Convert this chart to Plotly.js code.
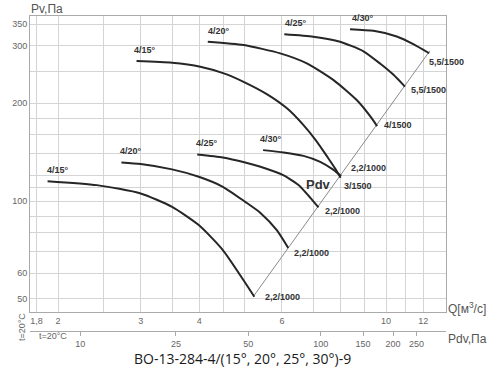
<!DOCTYPE html>
<html><head><meta charset="utf-8">
<script src="https://cdn.plot.ly/plotly-3.0.1.min.js"></script>
<style>body{margin:0;background:#fff}#chart{width:500px;height:370px}</style>
</head><body><div id="chart"></div>
<script>
// ---- data (Q in m3/s, Pv in Pa) ----
const low15Q = [1.90, 2.42, 3.00, 3.50, 3.99, 4.49, 4.97, 5.24];
const low15P = [115.2, 112.0, 105.6, 96.0, 84.4, 70.7, 57.1, 50.8];
const low20Q = [2.73, 3.00, 3.50, 3.99, 4.49, 5.01, 5.40, 5.85, 6.19];
const low20P = [131.5, 130.0, 125.2, 118.8, 110.7, 99.5, 92.0, 81.4, 71.7];
const low25Q = [3.96, 4.49, 5.01, 5.40, 6.05, 6.56, 6.89, 7.18];
const low25P = [139.2, 136.3, 131.5, 127.5, 120.0, 111.0, 102.5, 95.6];
const low30Q = [5.47, 6.05, 6.67, 7.24, 7.73, 8.02];
const low30P = [143.5, 141.2, 137.8, 132.1, 124.8, 119.4];
const up15Q = [2.94, 3.50, 4.02, 4.51, 4.97, 5.57, 6.15, 6.67, 7.12, 7.48, 7.79, 8.00];
const up15P = [269.6, 266.4, 259.0, 247.1, 232.8, 213.4, 192.9, 171.3, 152.5, 137.5, 126.0, 118.1];
const up20Q = [4.17, 4.97, 5.95, 6.78, 7.73, 8.66, 9.25, 9.57];
const up20P = [309.2, 302.0, 284.8, 265.3, 235.6, 204.6, 182.5, 170.1];
const up25Q = [6.07, 7.00, 7.98, 8.95, 9.71, 10.36, 10.97];
const up25P = [325.8, 320.3, 309.2, 289.0, 265.0, 245.0, 225.0];
const up30Q = [8.38, 9.40, 10.54, 11.43, 12.36];
const up30P = [338.0, 334.0, 321.0, 304.0, 285.0];
const pdvQ = [5.22, 12.40];
const pdvP = [51.0, 290.0];

const startLabels = ["4/15°","4/20°","4/25°","4/30°","4/15°","4/20°","4/25°","4/30°"];
const endLabels = ["2,2/1000","2,2/1000","2,2/1000","2,2/1000","3/1500","4/1500","5,5/1500","5,5/1500"];

const qTickVals = [1.8, 2, 2.5, 3, 3.5, 4, 4.5, 5, 6, 7, 8, 9, 10, 11, 12];
const qTickText = ["1,8", "2", "", "3", "", "4", "", "", "6", "", "", "", "10", "", "12"];
const pTickVals = [50, 60, 70, 80, 90, 100, 110, 120, 140, 160, 180, 200, 250, 300, 350];
const pTickText = ["50", "60", "", "", "", "100", "", "", "", "", "", "200", "", "300", "350"];
const pdvTickVals = [10, 25, 50, 100, 150, 200, 250];
const pdvTickText = ["10", "25", "50", "100", "150", "200", "250"];

// ---- build ----
const curvesQ = [low15Q, low20Q, low25Q, low30Q, up15Q, up20Q, up25Q, up30Q];
const curvesP = [low15P, low20P, low25P, low30P, up15P, up20P, up25P, up30P];
const traces = [];
traces.push({x: pdvQ, y: pdvP, mode: 'lines', line: {color: '#8a8a8a', width: 1}, hoverinfo: 'skip'});
curvesQ.forEach((q, i) => {
  traces.push({x: q, y: curvesP[i], mode: 'lines', line: {color: '#262626', width: 2, shape: 'spline', smoothing: 0.6}, hoverinfo: 'skip'});
});
traces.push({x: pdvTickVals, y: pdvTickVals.map(() => 100), xaxis: 'x2', mode: 'markers', marker: {opacity: 0}, hoverinfo: 'skip'});

const lab = {family: 'Liberation Sans, Arial, sans-serif', size: 9, color: '#333'};
const annotations = [];
// start labels
const startShift = [[-3, 4], [-3, 4], [-3, 4], [-5, 4], [-5, 4], [-2, 4], [-1, 4], [0, 4]];
curvesQ.forEach((q, i) => {
  annotations.push({x: Math.log10(q[0]), y: Math.log10(curvesP[i][0]), xref: 'x', yref: 'y',
    text: '<b>' + startLabels[i] + '</b>', showarrow: false, xanchor: 'left', yanchor: 'bottom',
    xshift: startShift[i][0], yshift: startShift[i][1], font: lab});
});
// end labels
const endShift = [[9, 0], [4, -5], [4, -4], [8, 8], [1, -8], [5, 1], [4, -3], [-2, -9]];
curvesQ.forEach((q, i) => {
  const n = q.length - 1;
  annotations.push({x: Math.log10(q[n]), y: Math.log10(curvesP[i][n]), xref: 'x', yref: 'y',
    text: '<b>' + endLabels[i] + '</b>', showarrow: false, xanchor: 'left', yanchor: 'middle',
    xshift: endShift[i][0], yshift: endShift[i][1], font: lab});
});
annotations.push({x: Math.log10(7.17), y: Math.log10(112.8), xref: 'x', yref: 'y', text: '<b>Pdv</b>',
  showarrow: false, font: {family: 'Liberation Sans, Arial, sans-serif', size: 13, color: '#333'}});

const axFont = {family: 'Liberation Sans, Arial, sans-serif', size: 12, color: '#555'};
function px(x, y, text, opts) {
  return Object.assign({xref: 'paper', yref: 'paper', x: x, y: y, text: text, showarrow: false}, opts);
}
// paper coords: plot area x 30..446 (416 px), y 331..16 (315 px)
const W = 416, H = 315;
const fx = p => (p - 30) / W, fy = p => (331 - p) / H;
annotations.push(px(fx(446), fy(308), 'Q[м<sup>3</sup>/с]', {xanchor: 'left', yanchor: 'middle', font: axFont}));
annotations.push(px(fx(446), fy(339), 'Pdv,Па', {xanchor: 'left', yanchor: 'middle', font: axFont}));
annotations.push(px(fx(29), fy(9), 'Pv,Па', {xanchor: 'left', yanchor: 'middle', font: axFont}));
annotations.push(px(fx(37), fy(336), 't=20°C', {xanchor: 'left', yanchor: 'middle', font: {family: 'Liberation Sans, Arial, sans-serif', size: 9, color: '#666'}}));
annotations.push(px(fx(22), fy(327), 't=20°C', {xanchor: 'center', yanchor: 'middle', textangle: -90, font: {family: 'Liberation Sans, Arial, sans-serif', size: 9, color: '#666'}}));
annotations.push(px(fx(242), fy(359), 'ВО-13-284-4/(15°, 20°, 25°, 30°)-9', {xanchor: 'center', yanchor: 'middle', font: {family: 'Open Sans, Noto Sans, sans-serif', size: 14, color: '#1a1a1a'}}));

const tickFont = {family: 'Liberation Sans, Arial, sans-serif', size: 9, color: '#666'};
const layout = {
  width: 500, height: 370,
  margin: {l: 30, r: 54, t: 16, b: 39, pad: 0},
  paper_bgcolor: '#fff', plot_bgcolor: '#fff',
  showlegend: false,
  xaxis: {type: 'log', range: [Math.log10(1.743), Math.log10(13.42)], tickmode: 'array', tickvals: qTickVals, ticktext: qTickText,
    showgrid: true, gridcolor: '#d4d4d4', gridwidth: 1, showline: true, linecolor: '#aaa', linewidth: 1, mirror: true,
    zeroline: false, ticks: '', tickfont: tickFont, fixedrange: true},
  xaxis2: {type: 'log', overlaying: 'x', anchor: 'free', position: 0, side: 'bottom', range: [0.791, 2.521],
    tickmode: 'array', tickvals: pdvTickVals, ticktext: pdvTickText, showgrid: false, showline: true, linecolor: '#aaa',
    ticks: 'outside', ticklen: 4, tickcolor: '#aaa', tickfont: tickFont, zeroline: false},
  yaxis: {type: 'log', domain: [19 / 315, 1], range: [Math.log10(45.6), Math.log10(371)], tickmode: 'array', tickvals: pTickVals, ticktext: pTickText,
    showgrid: true, gridcolor: '#d4d4d4', gridwidth: 1, showline: true, linecolor: '#aaa', linewidth: 1, mirror: true,
    zeroline: false, ticks: '', tickfont: tickFont, fixedrange: true},
  annotations: annotations
};
Plotly.newPlot('chart', traces, layout, {staticPlot: true, displayModeBar: false});
</script></body></html>
